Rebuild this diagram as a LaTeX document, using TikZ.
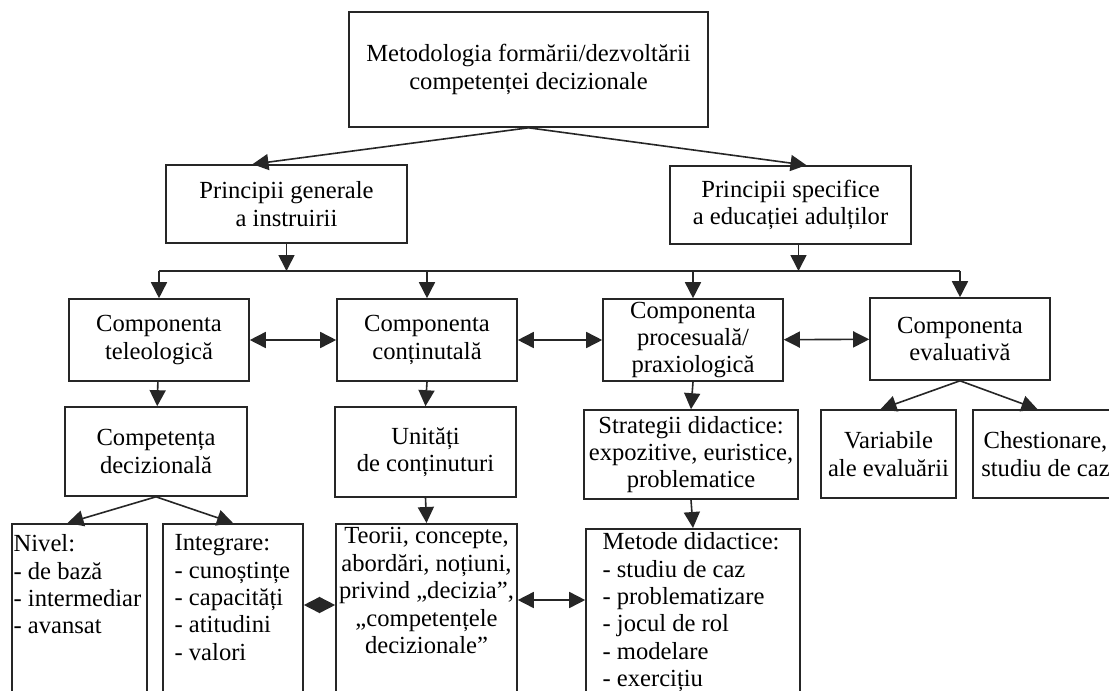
\documentclass[tikz,border=0pt]{standalone}
\usepackage{fontspec}
\setmainfont{Liberation Serif}
\usetikzlibrary{arrows.meta}

\begin{document}
\begin{tikzpicture}[x = 0.5pt, y = -0.5pt,
  box/.style = {draw = black!85, line width = 0.8pt, inner sep = 0, align = center, font = \fontsize{12.3pt}{13.7pt}\selectfont},
  listbox/.style = {inner sep = 0, align = left, font = \fontsize{12.3pt}{13.7pt}\selectfont},
  arr/.style = {draw = black!85, line width = 0.8pt, -{Triangle[length = 8pt, width = 8pt]}},
  dbl/.style = {draw = black!85, line width = 0.8pt, {Triangle[length = 8pt, width = 8pt]}-{Triangle[length = 8pt, width = 8pt]}}]
  \clip (0, 0) rectangle (1109, 691);
  \fill[white] (0, 0) rectangle (1109, 691);
  \node[box, minimum width = 179.5pt, minimum height = 57.5pt] (metod) at (528.5, 69.5) {Metodologia formării/dezvoltării\\competenței decizionale};
  \node[box, minimum width = 120.5pt, minimum height = 39pt] (pg) at (286.5, 204) {Principii generale\\a instruirii};
  \node[box, minimum width = 120.5pt, minimum height = 39pt] (ps) at (790.5, 205) {Principii specifice\\a educației adulților};
  \draw[arr] (metod.south) -- ([xshift = -17pt]pg.north);
  \draw[arr] (metod.south) -- ([xshift = 8pt]ps.north);
  \coordinate (bus) at (0, 271);
  \node[box, minimum width = 90pt, minimum height = 41pt] (tele) at (159, 340) {Componenta\\teleologică};
  \node[box, minimum width = 90pt, minimum height = 41pt] (cont) at (427, 340) {Componenta\\conținutală};
  \node[box, minimum width = 90pt, minimum height = 41pt] (proc) at (693, 340) {Componenta\\procesuală/\\praxiologică};
  \node[box, minimum width = 90pt, minimum height = 41pt] (eval) at (960, 339) {Componenta\\evaluativă};
  \draw[arr] (pg.south) -- (pg.south |- bus);
  \draw[arr] ([xshift = 4pt]ps.south) -- ([xshift = 4pt]ps.south |- bus);
  \draw[draw = black!85, line width = 0.8pt] (tele.north |- bus) -- (eval.north |- bus);
  \foreach \n in {tele, cont, proc, eval}
    \draw[arr] (\n.north |- bus) -- (\n.north);
  \draw[dbl] (tele) -- (cont);
  \draw[dbl] (cont) -- (proc);
  \draw[dbl] (proc) -- (eval);
  \node[box, minimum width = 91pt, minimum height = 44.5pt] (comp) at (156, 451.5) {Competența\\decizională};
  \node[box, minimum width = 90.5pt, minimum height = 45pt] (unit) at (425.5, 452) {Unități\\de conținuturi};
  \node[box, minimum width = 107pt, minimum height = 44.5pt] (strat) at (691, 454.5) {Strategii didactice:\\expozitive, euristice,\\problematice};
  \node[box, minimum width = 67.5pt, minimum height = 44pt] (var) at (888.5, 454) {Variabile\\ale evaluării};
  \node[box, minimum width = 72.5pt, minimum height = 44pt] (chest) at (1045.5, 454) {Chestionare,\\studiu de caz};
  \draw[arr] (tele) -- (comp);
  \draw[arr] (cont.south) -- (unit.north);
  \draw[arr] (proc.south) -- (strat.north);
  \draw[arr] (eval.south) -- ([xshift = -4pt]var.north);
  \draw[arr] (eval.south) -- ([xshift = -4pt]chest.north);
  \node[box, anchor = north, minimum width = 67.5pt, minimum height = 110pt] (nivel) at (79.5, 523) {};
  \node[box, anchor = north, minimum width = 70pt, minimum height = 110pt] (integ) at (233, 523) {};
  \node[box, anchor = north, minimum width = 90.5pt, minimum height = 110pt] (teorii) at (426.5, 523) {};
  \node[box, anchor = north, minimum width = 107pt, minimum height = 110pt] (metode) at (693, 528) {};
  \node[listbox, anchor = north west] (niveltxt) at ([xshift = 1pt, yshift = -5.6pt]nivel.north west) {Nivel:\\- de bază\\- intermediar\\- avansat};
  \node[listbox, anchor = north west] (integtxt) at ([xshift = 6pt, yshift = -5.6pt]integ.north west) {Integrare:\\- cunoștințe\\- capacități\\- atitudini\\- valori};
  \node[listbox, align = center, anchor = north] (teoriitxt) at ([yshift = -2.1pt]teorii.north) {Teorii, concepte,\\abordări, noțiuni,\\privind „decizia”,\\„competențele\\decizionale”};
  \node[listbox, anchor = north west] (metodetxt) at ([xshift = 8.5pt, yshift = -2.1pt]metode.north west) {Metode didactice:\\- studiu de caz\\- problematizare\\- jocul de rol\\- modelare\\- exercițiu};
  \draw[arr] (comp.south) -- ([xshift = -6pt]nivel.north);
  \draw[arr] (comp.south) -- (integ.north);
  \draw[arr] (unit.south) -- (teorii.north);
  \draw[arr] (strat.south) -- (metode.north);
  \coordinate (it) at (0, 605);
  \coordinate (tm) at (0, 600);
  \draw[dbl] (integ.east |- it) -- (teorii.west |- it);
  \draw[dbl] (teorii.east |- tm) -- (metode.west |- tm);
\end{tikzpicture}
\end{document}
